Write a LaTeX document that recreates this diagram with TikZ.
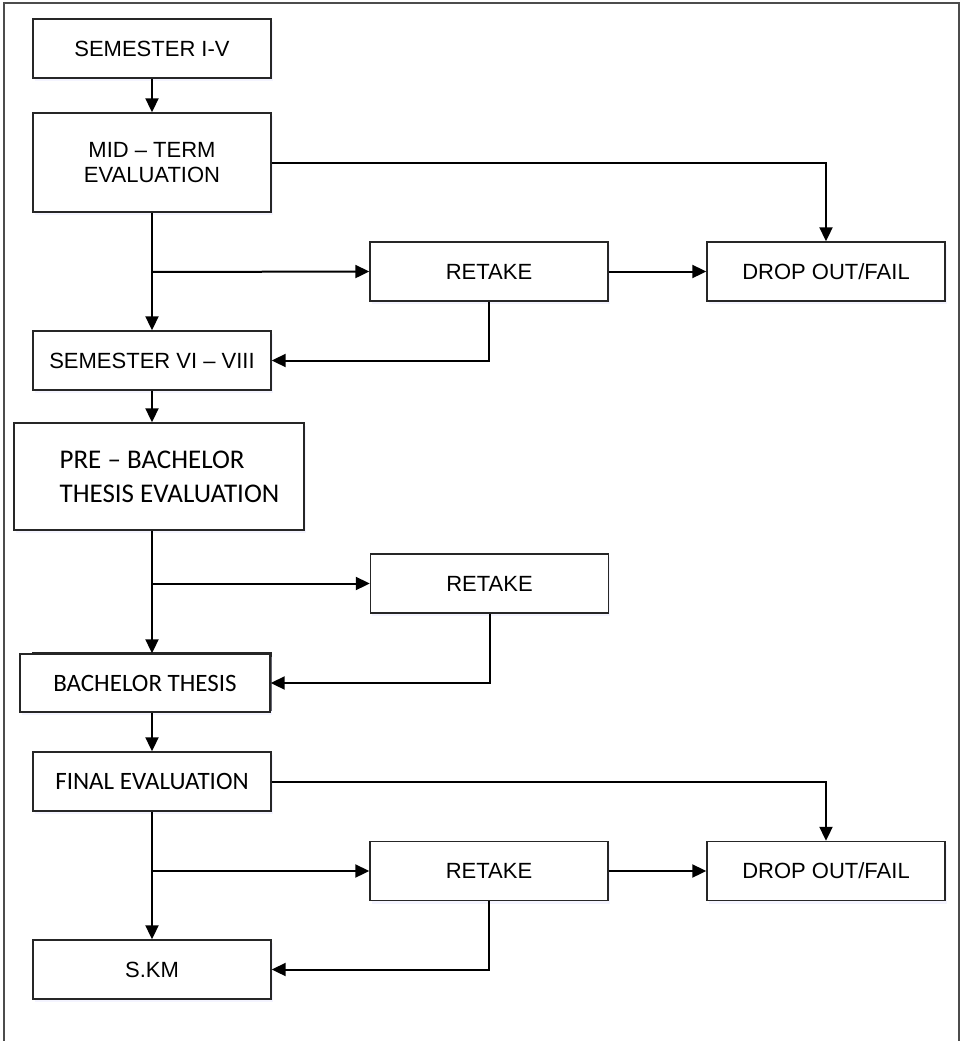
\documentclass[tikz,border=0pt]{standalone}
\usepackage{fontspec}
\setmainfont{Liberation Sans}
\newfontfamily\calibrifont[Ligatures=TeX]{Carlito}
\usetikzlibrary{arrows.meta,shadows}
\begin{document}
\begin{tikzpicture}[x=1pt,y=-1pt,
  box/.style={draw=black!85, line width=1.4pt, fill=white, minimum width=238pt, minimum height=59pt,
    inner sep=0pt, align=center, font=\fontsize{22}{25.5}\selectfont,
    drop shadow={shadow xshift=1.5pt, shadow yshift=-3pt, opacity=0.35, fill=blue!12}},
  conn/.style={line width=2pt, black},
  arr/.style={conn, -{Triangle[length=14pt,width=13pt]}},
  frame/.style={line width=2pt, black!70}
]
\useasboundingbox (0,0) rectangle (960,1041);
\draw[frame] (4,1041) -- (4,3) -- (959,3) -- (959,1041);

\node[box] (s15) at (152,48.5) {SEMESTER I-V};
\node[box, minimum height=99pt] (mid) at (152,162.5) {MID – TERM\\EVALUATION};
\node[box] (ret1) at (489,271.5) {RETAKE};
\node[box] (drop1) at (826,271.5) {DROP OUT/FAIL};
\node[box] (s68) at (152,360.5) {SEMESTER VI – VIII};
\node[box, minimum width=290pt, minimum height=107pt, align=left,
  font=\calibrifont\fontsize{27}{34}\selectfont] (pre) at (159,476.5)
  {\hspace*{21pt}PRE – BACHELOR\\\hspace*{21pt}THESIS EVALUATION};
\node[box] (ret2) at (489.5,583.5) {RETAKE};
\draw[line width=1.4pt, black!85] (33,653) rectangle (271,710);
\node[box, minimum width=250pt, minimum height=58pt, font=\calibrifont\fontsize{25}{30}\selectfont] (bt) at (145,683) {BACHELOR THESIS};
\node[box, font=\calibrifont\fontsize{25}{30}\selectfont] (fin) at (152,781.5) {FINAL EVALUATION};
\node[box] (ret3) at (489,871) {RETAKE};
\node[box] (drop2) at (826,871) {DROP OUT/FAIL};
\node[box] (skm) at (152,969.5) {S.KM};

\coordinate (b1) at (152,272);
\coordinate (b2) at (152,583.5);
\coordinate (b3) at (152,871);

\draw[arr] (s15.south) -- (mid.north);
\draw[arr] (mid.east) -| (drop1.north);
\draw[arr] (mid.south) -- (s68.north);
\draw[arr] (b1) -- (ret1.west);
\draw[arr] (ret1.east) -- (drop1.west);
\draw[arr] (ret1.south) |- (s68.east);
\draw[arr] (s68.south) -- (s68.south |- pre.north);
\draw[arr] (pre.south -| s68.south) -- (bt.north -| s68.south);
\draw[arr] (b2) -- (ret2.west);
\draw[arr] (ret2.south) |- (bt.east);
\draw[arr] (bt.south -| s68.south) -- (fin.north);
\draw[arr] (fin.east) -| (drop2.north);
\draw[arr] (fin.south) -- (skm.north);
\draw[arr] (b3) -- (ret3.west);
\draw[arr] (ret3.east) -- (drop2.west);
\draw[arr] (ret3.south) |- (skm.east);
\end{tikzpicture}
\end{document}
